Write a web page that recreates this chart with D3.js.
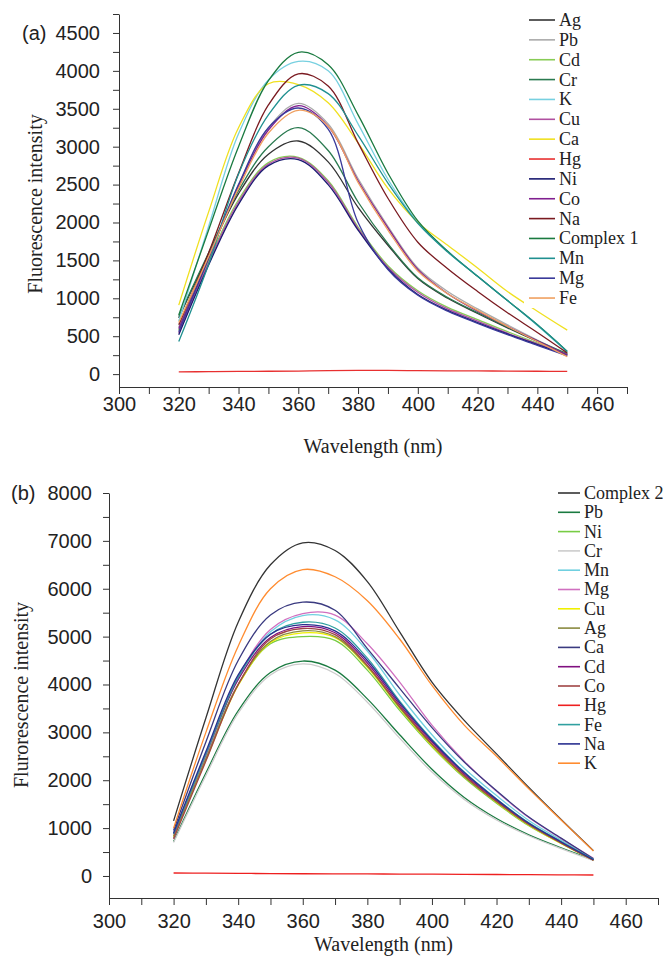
<!DOCTYPE html>
<html>
<head>
<meta charset="utf-8">
<title>Fluorescence spectra</title>
<script src="https://cdnjs.cloudflare.com/ajax/libs/d3/7.8.5/d3.min.js"></script>
<style>
body { margin:0; background:#fff; }
svg { display:block; }
.axis text { font-family:"Liberation Sans", Arial, sans-serif; font-size:20px; fill:#222; }
.axis path, .axis line { stroke:#333; stroke-width:1; }
.title { font-family:"Liberation Serif", "Times New Roman", serif; font-size:20px; fill:#222; }
.panel-label { font-family:"Liberation Sans", Arial, sans-serif; font-size:20px; fill:#222; }
.legend text { font-family:"Liberation Serif", "Times New Roman", serif; font-size:18px; fill:#222; }
</style>
</head>
<body>
<svg id="chart" width="665" height="967"></svg>
<script>
// wavelengths (nm) shared by both panels
var wavelengths = [320, 330, 340, 350, 360, 370, 380, 390, 400, 410, 420, 430, 440, 450];
var xTickLabels = [300, 320, 340, 360, 380, 400, 420, 440, 460];
var yTickLabelsA = [0, 500, 1000, 1500, 2000, 2500, 3000, 3500, 4000, 4500];
var yTickLabelsB = [0, 1000, 2000, 3000, 4000, 5000, 6000, 7000, 8000];

// panel (a)
var a_Ag       = [740, 1580, 2380, 2900, 3075, 2800, 2200, 1700, 1260, 1000, 800, 610, 430, 260];
var a_Pb       = [620, 1550, 2500, 3250, 3570, 3300, 2580, 1950, 1400, 1090, 860, 650, 450, 260];
var a_Cd       = [580, 1500, 2300, 2790, 2860, 2550, 1940, 1430, 1100, 880, 720, 560, 410, 270];
var a_Cr       = [760, 1600, 2420, 3000, 3250, 2950, 2270, 1720, 1270, 1010, 810, 620, 440, 270];
var a_K        = [700, 1950, 3170, 3880, 4125, 4000, 3300, 2570, 2000, 1620, 1290, 970, 640, 290];
var a_Cu       = [540, 1470, 2270, 2770, 2850, 2530, 1920, 1410, 1080, 860, 700, 540, 400, 260];
var a_Ca       = [910, 2140, 3250, 3830, 3820, 3580, 3050, 2450, 2000, 1700, 1400, 1090, 830, 580];
var a_Hg       = [30, 32, 35, 38, 40, 45, 48, 48, 46, 44, 42, 40, 38, 35];
var a_Ni       = [520, 1440, 2240, 2750, 2830, 2500, 1900, 1390, 1050, 840, 680, 530, 390, 250];
var a_Co       = [600, 1530, 2480, 3220, 3540, 3270, 2550, 1930, 1380, 1060, 830, 630, 440, 250];
var a_Na       = [650, 1600, 2650, 3550, 3960, 3800, 3050, 2320, 1740, 1390, 1090, 810, 550, 280];
var a_Complex1 = [780, 1900, 3000, 3870, 4245, 4080, 3420, 2650, 2020, 1620, 1290, 970, 650, 300];
var a_Mn       = [430, 1450, 2640, 3420, 3810, 3700, 3150, 2520, 1990, 1610, 1290, 970, 650, 300];
var a_Mg       = [560, 1530, 2500, 3250, 3510, 3230, 2000, 1380, 1040, 830, 670, 520, 380, 240];
var a_Fe       = [680, 1550, 2450, 3180, 3480, 3270, 2530, 1900, 1360, 1060, 840, 630, 430, 230];

// panel (b)
var b_Complex2 = [1150, 3300, 5300, 6500, 6960, 6800, 6150, 5100, 4050, 3250, 2550, 1850, 1180, 530];
var b_Pb       = [720, 2150, 3450, 4250, 4490, 4300, 3700, 2950, 2230, 1640, 1200, 860, 590, 340];
var b_Ni       = [800, 2500, 4000, 4850, 5000, 4920, 4300, 3460, 2700, 2050, 1520, 1050, 680, 330];
var b_Cr       = [700, 2100, 3400, 4200, 4430, 4230, 3630, 2880, 2170, 1600, 1170, 840, 570, 320];
var b_Mn       = [800, 2500, 4150, 5100, 5440, 5350, 4700, 3780, 2950, 2250, 1680, 1160, 750, 360];
var b_Mg       = [780, 2500, 4150, 5150, 5480, 5450, 4850, 4050, 3150, 2400, 1770, 1220, 780, 370];
var b_Cu       = [820, 2420, 3980, 4880, 5080, 4980, 4360, 3500, 2720, 2070, 1540, 1060, 680, 330];
var b_Ag       = [830, 2450, 4000, 4900, 5120, 5000, 4380, 3520, 2740, 2080, 1550, 1070, 690, 330];
var b_Ca       = [950, 2800, 4500, 5450, 5720, 5550, 4750, 3920, 3100, 2380, 1780, 1230, 790, 360];
var b_Cd       = [870, 2550, 4100, 4980, 5210, 5080, 4450, 3580, 2800, 2130, 1580, 1090, 700, 335];
var b_Co       = [780, 2400, 4000, 4950, 5170, 5040, 4400, 3540, 2760, 2100, 1560, 1080, 690, 330];
var b_Hg       = [62, 58, 54, 50, 47, 44, 42, 40, 37, 34, 31, 28, 24, 20];
var b_Fe       = [880, 2550, 4150, 5050, 5300, 5180, 4550, 3650, 2850, 2170, 1610, 1110, 720, 350];
var b_Na       = [900, 2600, 4200, 5050, 5250, 5120, 4500, 3620, 2830, 2160, 1600, 1100, 710, 340];
var b_K        = [1000, 3000, 4800, 6000, 6400, 6250, 5750, 4950, 3980, 3150, 2500, 1820, 1170, 520];

var seriesA = [
    {name:'Ag', values:a_Ag, color:'#333333'},
    {name:'Pb', values:a_Pb, color:'#aaaaaa'},
    {name:'Cd', values:a_Cd, color:'#88cc55'},
    {name:'Cr', values:a_Cr, color:'#2a7a50'},
    {name:'K', values:a_K, color:'#77d0e0'},
    {name:'Cu', values:a_Cu, color:'#b050a0'},
    {name:'Ca', values:a_Ca, color:'#f0e020'},
    {name:'Hg', values:a_Hg, color:'#e83030'},
    {name:'Ni', values:a_Ni, color:'#1a1a70'},
    {name:'Co', values:a_Co, color:'#802090'},
    {name:'Na', values:a_Na, color:'#7a1a20'},
    {name:'Complex 1', values:a_Complex1, color:'#1a7a40'},
    {name:'Mn', values:a_Mn, color:'#209090'},
    {name:'Mg', values:a_Mg, color:'#3a3a9a'},
    {name:'Fe', values:a_Fe, color:'#f0a060'}
];

var seriesB = [
    {name:'Complex 2', values:b_Complex2, color:'#333333'},
    {name:'Pb', values:b_Pb, color:'#1a7a40'},
    {name:'Ni', values:b_Ni, color:'#77cc44'},
    {name:'Cr', values:b_Cr, color:'#cccccc'},
    {name:'Mn', values:b_Mn, color:'#70d0e0'},
    {name:'Mg', values:b_Mg, color:'#d070c0'},
    {name:'Cu', values:b_Cu, color:'#f0f000'},
    {name:'Ag', values:b_Ag, color:'#8a8a40'},
    {name:'Ca', values:b_Ca, color:'#3a3a80'},
    {name:'Cd', values:b_Cd, color:'#801080'},
    {name:'Co', values:b_Co, color:'#a04545'},
    {name:'Hg', values:b_Hg, color:'#ee2020'},
    {name:'Fe', values:b_Fe, color:'#30a0a0'},
    {name:'Na', values:b_Na, color:'#2a3090'},
    {name:'K', values:b_K, color:'#ff8c30'}
];

var svg = d3.select('#chart');

function drawPanel(p) {
    var x = d3.scaleLinear().domain([300, 470]).range([p.left, p.right]);
    var y = d3.scaleLinear().domain(p.yDomain).range([p.bottom, p.top]);
    var g = svg.append('g');

    var line = d3.line()
        .x(function(d, i) { return x(wavelengths[i]); })
        .y(function(d) { return y(d); })
        .curve(d3.curveCatmullRom);

    p.series.forEach(function(s) {
        g.append('path')
            .attr('d', line(s.values))
            .attr('fill', 'none')
            .attr('stroke', s.color)
            .attr('stroke-width', 1.3);
    });

    // legend sits on a white box over the lines
    var leg = g.append('g').attr('class', 'legend');
    if (p.legendBox) {
        leg.append('rect')
            .attr('x', p.legendBox[0]).attr('y', p.legendBox[1])
            .attr('width', p.legendBox[2]).attr('height', p.legendBox[3])
            .attr('fill', '#fff');
    }
    p.series.forEach(function(s, i) {
        var ly = p.legendY + i * p.legendStep;
        leg.append('line')
            .attr('x1', p.legendX).attr('x2', p.legendX + p.legendLen)
            .attr('y1', ly).attr('y2', ly)
            .attr('stroke', s.color).attr('stroke-width', 1.6);
        leg.append('text')
            .attr('x', p.legendX + p.legendLen + 4)
            .attr('y', ly).attr('dy', '0.33em')
            .text(s.name);
    });

    // x axis: ticks every 10 nm, labels every 20 nm
    var xTicks = d3.range(300, 471, 10);
    g.append('g').attr('class', 'axis')
        .attr('transform', 'translate(0,' + p.bottom + ')')
        .call(d3.axisBottom(x).tickValues(xTicks).tickSize(7).tickSizeOuter(0).tickPadding(p.xPad)
            .tickFormat(function(d) { return xTickLabels.indexOf(d) >= 0 ? d : ''; }));

    // y axis: minor ticks between labels
    var yTicks = d3.range(0, p.yDomain[1] + 1, p.yMinor);
    g.append('g').attr('class', 'axis')
        .attr('transform', 'translate(' + p.left + ',0)')
        .call(d3.axisLeft(y).tickValues(yTicks).tickSize(6).tickSizeOuter(0).tickPadding(p.yPad)
            .tickFormat(function(d) { return p.yLabels.indexOf(d) >= 0 ? d : ''; }));

    g.append('text').attr('class', 'title')
        .attr('x', (p.left + p.right) / 2).attr('y', p.bottom + p.xTitleOffset)
        .attr('text-anchor', 'middle')
        .text('Wavelength (nm)');

    g.append('text').attr('class', 'title')
        .attr('transform', 'translate(' + p.yTitleX + ',' + p.yTitleY + ') rotate(-90)')
        .attr('text-anchor', 'middle').attr('dy', '0.35em')
        .text(p.yTitle);

    g.append('text').attr('class', 'panel-label')
        .attr('x', p.labelX).attr('y', y(p.yLabels[p.yLabels.length - 1])).attr('dy', '0.35em')
        .text(p.label);
}

drawPanel({
    series: seriesA, label: '(a)', labelX: 22,
    left: 119, right: 627, top: 14, bottom: 387,
    yDomain: [-170, 4750], yMinor: 250, yLabels: yTickLabelsA,
    xPad: 3, yPad: 13, xTitleOffset: 66,
    yTitle: 'Fluorescence intensity', yTitleX: 35, yTitleY: 204,
    legendX: 529, legendLen: 26, legendY: 20, legendStep: 19.86,
    legendBox: [524, 6, 121, 302]
});

drawPanel({
    series: seriesB, label: '(b)', labelX: 11,
    left: 109, right: 658, top: 493, bottom: 898,
    yDomain: [-460, 8000], yMinor: 500, yLabels: yTickLabelsB,
    xPad: 9, yPad: 11, xTitleOffset: 53,
    yTitle: 'Flurorescence intensity', yTitleX: 21, yTitleY: 695,
    legendX: 558, legendLen: 22, legendY: 493, legendStep: 19.3,
    legendBox: null
});
</script>
</body>
</html>
